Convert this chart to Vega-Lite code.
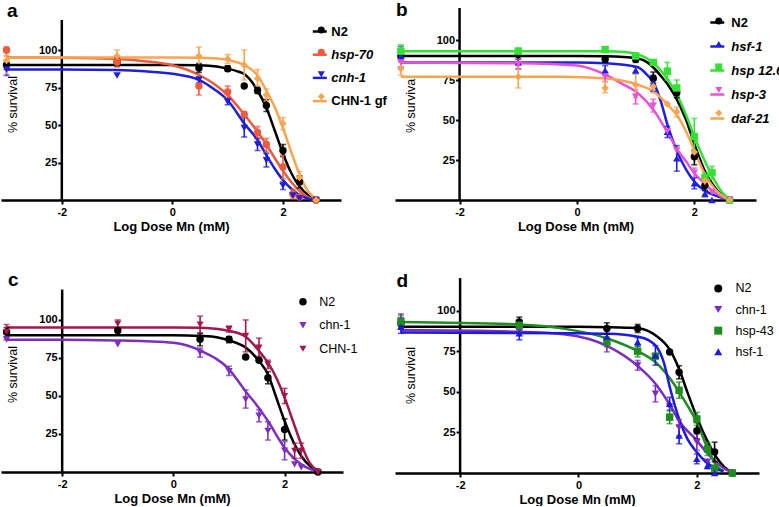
{
  "$schema": "https://vega.github.io/schema/vega-lite/v6.json",
  "background": "white",
  "padding": {"left": 1, "top": 0, "right": 0, "bottom": 0},
  "resolve": {"scale": {"color": "independent", "shape": "independent", "size": "independent"}, "legend": {"color": "independent", "shape": "independent", "size": "independent"}},
  "datasets": {
    "axisLine": [{}],
    "aP": [
      {"s":"N2","x":-3,"y":90,"lo":87,"hi":93},
      {"s":"N2","x":-1,"y":92,"lo":89,"hi":95},
      {"s":"N2","x":0.48,"y":88,"lo":85,"hi":91},
      {"s":"N2","x":1,"y":87.5,"lo":86,"hi":89.5},
      {"s":"N2","x":1.3,"y":76},
      {"s":"N2","x":1.54,"y":73,"lo":71,"hi":75},
      {"s":"N2","x":1.7,"y":63,"lo":59,"hi":67},
      {"s":"N2","x":2,"y":33,"lo":29,"hi":37},
      {"s":"N2","x":2.3,"y":12,"lo":8,"hi":16},
      {"s":"N2","x":2.6,"y":0},
      {"s":"hsp-70","x":-3,"y":100,"lo":96,"hi":102},
      {"s":"hsp-70","x":-1,"y":92,"lo":89,"hi":95},
      {"s":"hsp-70","x":0.48,"y":76,"lo":70,"hi":82},
      {"s":"hsp-70","x":1,"y":72,"lo":68,"hi":76},
      {"s":"hsp-70","x":1.3,"y":57,"lo":55,"hi":59},
      {"s":"hsp-70","x":1.54,"y":45,"lo":41,"hi":49},
      {"s":"hsp-70","x":1.7,"y":37,"lo":32,"hi":41},
      {"s":"hsp-70","x":2,"y":22,"lo":14,"hi":30},
      {"s":"hsp-70","x":2.18,"y":4,"lo":1,"hi":7},
      {"s":"hsp-70","x":2.3,"y":2},
      {"s":"hsp-70","x":2.6,"y":0},
      {"s":"cnh-1","x":-3,"y":87,"lo":83,"hi":91},
      {"s":"cnh-1","x":-1,"y":83},
      {"s":"cnh-1","x":0.48,"y":80,"lo":78,"hi":82},
      {"s":"cnh-1","x":1,"y":65.5,"lo":63.5,"hi":67.5},
      {"s":"cnh-1","x":1.3,"y":48,"lo":42,"hi":55},
      {"s":"cnh-1","x":1.54,"y":37,"lo":33,"hi":41},
      {"s":"cnh-1","x":1.7,"y":26.5,"lo":22,"hi":31},
      {"s":"cnh-1","x":2,"y":9.5,"lo":7,"hi":12},
      {"s":"cnh-1","x":2.18,"y":3},
      {"s":"cnh-1","x":2.3,"y":1},
      {"s":"cnh-1","x":2.6,"y":0},
      {"s":"CHN-1 gf","x":-3,"y":93,"lo":84,"hi":98},
      {"s":"CHN-1 gf","x":-1,"y":96,"lo":93,"hi":100},
      {"s":"CHN-1 gf","x":0.48,"y":96,"lo":89,"hi":102},
      {"s":"CHN-1 gf","x":1,"y":94,"lo":91,"hi":97},
      {"s":"CHN-1 gf","x":1.3,"y":90,"lo":80,"hi":100},
      {"s":"CHN-1 gf","x":1.54,"y":81,"lo":76,"hi":87},
      {"s":"CHN-1 gf","x":1.7,"y":70,"lo":66,"hi":74},
      {"s":"CHN-1 gf","x":2,"y":51,"lo":47,"hi":55},
      {"s":"CHN-1 gf","x":2.3,"y":15,"lo":10,"hi":19},
      {"s":"CHN-1 gf","x":2.6,"y":0}
    ],
    "aC": [
      {"s":"N2","x":-3,"y":90},{"s":"N2","x":-1,"y":90},{"s":"N2","x":0,"y":90},{"s":"N2","x":0.5,"y":89.8},{"s":"N2","x":0.8,"y":89},{"s":"N2","x":1,"y":87.6},{"s":"N2","x":1.2,"y":85.5},{"s":"N2","x":1.3,"y":84},{"s":"N2","x":1.4,"y":80.5},{"s":"N2","x":1.54,"y":73},{"s":"N2","x":1.7,"y":61.5},{"s":"N2","x":1.85,"y":46.5},{"s":"N2","x":2,"y":31},{"s":"N2","x":2.15,"y":18},{"s":"N2","x":2.3,"y":9},{"s":"N2","x":2.45,"y":3.5},{"s":"N2","x":2.6,"y":0.5},
      {"s":"hsp-70","x":-3,"y":95},{"s":"hsp-70","x":-2,"y":94.8},{"s":"hsp-70","x":-1,"y":94},{"s":"hsp-70","x":-0.5,"y":92.5},{"s":"hsp-70","x":0,"y":89.8},{"s":"hsp-70","x":0.5,"y":83},{"s":"hsp-70","x":0.75,"y":77.5},{"s":"hsp-70","x":1,"y":70},{"s":"hsp-70","x":1.3,"y":57},{"s":"hsp-70","x":1.54,"y":45.5},{"s":"hsp-70","x":1.7,"y":37},{"s":"hsp-70","x":1.85,"y":28},{"s":"hsp-70","x":2,"y":19.5},{"s":"hsp-70","x":2.15,"y":12},{"s":"hsp-70","x":2.3,"y":6},{"s":"hsp-70","x":2.45,"y":2},{"s":"hsp-70","x":2.6,"y":0},
      {"s":"cnh-1","x":-3,"y":87},{"s":"cnh-1","x":-2,"y":87},{"s":"cnh-1","x":-1,"y":86.6},{"s":"cnh-1","x":-0.5,"y":85.8},{"s":"cnh-1","x":0,"y":84.2},{"s":"cnh-1","x":0.5,"y":79.8},{"s":"cnh-1","x":0.75,"y":74},{"s":"cnh-1","x":1,"y":66.5},{"s":"cnh-1","x":1.3,"y":51},{"s":"cnh-1","x":1.54,"y":40},{"s":"cnh-1","x":1.7,"y":30},{"s":"cnh-1","x":1.85,"y":21},{"s":"cnh-1","x":2,"y":13.3},{"s":"cnh-1","x":2.15,"y":7.5},{"s":"cnh-1","x":2.3,"y":3.3},{"s":"cnh-1","x":2.45,"y":1},{"s":"cnh-1","x":2.55,"y":0},
      {"s":"CHN-1 gf","x":-3,"y":95},{"s":"CHN-1 gf","x":0,"y":95},{"s":"CHN-1 gf","x":0.5,"y":94.8},{"s":"CHN-1 gf","x":0.8,"y":94.3},{"s":"CHN-1 gf","x":1,"y":93.5},{"s":"CHN-1 gf","x":1.15,"y":92},{"s":"CHN-1 gf","x":1.3,"y":90},{"s":"CHN-1 gf","x":1.54,"y":83},{"s":"CHN-1 gf","x":1.7,"y":73},{"s":"CHN-1 gf","x":1.85,"y":62},{"s":"CHN-1 gf","x":2,"y":48},{"s":"CHN-1 gf","x":2.15,"y":32},{"s":"CHN-1 gf","x":2.3,"y":17},{"s":"CHN-1 gf","x":2.45,"y":6},{"s":"CHN-1 gf","x":2.6,"y":0.5}
    ],
    "bP": [
      {"s":"N2","x":-3,"y":90,"lo":87,"hi":93},
      {"s":"N2","x":-1,"y":91,"lo":88,"hi":94},
      {"s":"N2","x":0.48,"y":88,"lo":86,"hi":90},
      {"s":"N2","x":1,"y":88,"lo":86,"hi":90},
      {"s":"N2","x":1.3,"y":76,"lo":73,"hi":80},
      {"s":"N2","x":1.7,"y":67,"lo":64,"hi":70},
      {"s":"N2","x":2,"y":27,"lo":22,"hi":31},
      {"s":"N2","x":2.18,"y":9,"lo":6,"hi":12},
      {"s":"N2","x":2.6,"y":0},
      {"s":"hsf-1","x":-3,"y":90,"lo":83,"hi":96},
      {"s":"hsf-1","x":-1,"y":86,"lo":82,"hi":90},
      {"s":"hsf-1","x":0.48,"y":81,"lo":78,"hi":84},
      {"s":"hsf-1","x":1,"y":81,"lo":79,"hi":83},
      {"s":"hsf-1","x":1.3,"y":73,"lo":68,"hi":78},
      {"s":"hsf-1","x":1.54,"y":42.7,"lo":39,"hi":46},
      {"s":"hsf-1","x":1.7,"y":26,"lo":18,"hi":34},
      {"s":"hsf-1","x":2,"y":10.4,"lo":7,"hi":14},
      {"s":"hsf-1","x":2.18,"y":4,"lo":2,"hi":6},
      {"s":"hsf-1","x":2.3,"y":0},
      {"s":"hsp 12.6","x":-3,"y":93,"lo":89,"hi":97},
      {"s":"hsp 12.6","x":-1,"y":93,"lo":91,"hi":95},
      {"s":"hsp 12.6","x":0.48,"y":94},
      {"s":"hsp 12.6","x":1,"y":90,"lo":88,"hi":92},
      {"s":"hsp 12.6","x":1.3,"y":86},
      {"s":"hsp 12.6","x":1.54,"y":80.5,"lo":75,"hi":86},
      {"s":"hsp 12.6","x":1.7,"y":70,"lo":65,"hi":75},
      {"s":"hsp 12.6","x":2,"y":39.6,"lo":28,"hi":51},
      {"s":"hsp 12.6","x":2.18,"y":14,"lo":11,"hi":17},
      {"s":"hsp 12.6","x":2.3,"y":17,"lo":13,"hi":21},
      {"s":"hsp 12.6","x":2.6,"y":0},
      {"s":"hsp-3","x":-3,"y":86,"lo":83,"hi":89},
      {"s":"hsp-3","x":-1,"y":85,"lo":82,"hi":88},
      {"s":"hsp-3","x":0.48,"y":77,"lo":74,"hi":80},
      {"s":"hsp-3","x":1,"y":64.6,"lo":60,"hi":69},
      {"s":"hsp-3","x":1.3,"y":59,"lo":55,"hi":63},
      {"s":"hsp-3","x":1.54,"y":43},
      {"s":"hsp-3","x":1.7,"y":31},
      {"s":"hsp-3","x":2,"y":17,"lo":14,"hi":20},
      {"s":"hsp-3","x":2.18,"y":11,"lo":9,"hi":13},
      {"s":"hsp-3","x":2.3,"y":5},
      {"s":"hsp-3","x":2.6,"y":0},
      {"s":"daf-21","x":-3,"y":82,"lo":78,"hi":86},
      {"s":"daf-21","x":-1,"y":77,"lo":70,"hi":84},
      {"s":"daf-21","x":0.48,"y":70,"lo":67,"hi":74},
      {"s":"daf-21","x":1,"y":72,"lo":64,"hi":80},
      {"s":"daf-21","x":1.3,"y":71,"lo":67,"hi":75},
      {"s":"daf-21","x":1.54,"y":60},
      {"s":"daf-21","x":1.7,"y":55,"lo":52,"hi":58},
      {"s":"daf-21","x":2,"y":30},
      {"s":"daf-21","x":2.18,"y":12},
      {"s":"daf-21","x":2.6,"y":0}
    ],
    "bC": [
      {"s":"N2","x":-3,"y":90},{"s":"N2","x":0,"y":90},{"s":"N2","x":0.5,"y":89.8},{"s":"N2","x":0.8,"y":89.3},{"s":"N2","x":1.04,"y":88.5},{"s":"N2","x":1.2,"y":86},{"s":"N2","x":1.31,"y":82.5},{"s":"N2","x":1.43,"y":77.5},{"s":"N2","x":1.55,"y":72},{"s":"N2","x":1.72,"y":61.5},{"s":"N2","x":1.86,"y":50},{"s":"N2","x":2,"y":35},{"s":"N2","x":2.17,"y":18.8},{"s":"N2","x":2.34,"y":8.3},{"s":"N2","x":2.47,"y":3},{"s":"N2","x":2.6,"y":0.5},
      {"s":"hsf-1","x":-3,"y":86},{"s":"hsf-1","x":0,"y":86},{"s":"hsf-1","x":0.5,"y":85.5},{"s":"hsf-1","x":0.8,"y":84.5},{"s":"hsf-1","x":1.04,"y":83},{"s":"hsf-1","x":1.2,"y":78},{"s":"hsf-1","x":1.31,"y":73},{"s":"hsf-1","x":1.43,"y":61.5},{"s":"hsf-1","x":1.55,"y":46},{"s":"hsf-1","x":1.72,"y":29},{"s":"hsf-1","x":1.86,"y":19},{"s":"hsf-1","x":2,"y":11.5},{"s":"hsf-1","x":2.17,"y":6},{"s":"hsf-1","x":2.34,"y":3},{"s":"hsf-1","x":2.5,"y":1},
      {"s":"hsp 12.6","x":-3,"y":93},{"s":"hsp 12.6","x":0,"y":93},{"s":"hsp 12.6","x":0.5,"y":93},{"s":"hsp 12.6","x":0.8,"y":92.5},{"s":"hsp 12.6","x":1.04,"y":91},{"s":"hsp 12.6","x":1.31,"y":85.4},{"s":"hsp 12.6","x":1.55,"y":75},{"s":"hsp 12.6","x":1.72,"y":64.6},{"s":"hsp 12.6","x":1.86,"y":53},{"s":"hsp 12.6","x":2,"y":39.6},{"s":"hsp 12.6","x":2.17,"y":25},{"s":"hsp 12.6","x":2.34,"y":12.5},{"s":"hsp 12.6","x":2.47,"y":5},{"s":"hsp 12.6","x":2.6,"y":0.5},
      {"s":"hsp-3","x":-3,"y":86},{"s":"hsp-3","x":-1,"y":85.5},{"s":"hsp-3","x":0,"y":84},{"s":"hsp-3","x":0.5,"y":78},{"s":"hsp-3","x":0.75,"y":73},{"s":"hsp-3","x":1.04,"y":66.7},{"s":"hsp-3","x":1.31,"y":56},{"s":"hsp-3","x":1.55,"y":41.7},{"s":"hsp-3","x":1.72,"y":31},{"s":"hsp-3","x":1.86,"y":24},{"s":"hsp-3","x":2,"y":16.7},{"s":"hsp-3","x":2.17,"y":10.4},{"s":"hsp-3","x":2.34,"y":5},{"s":"hsp-3","x":2.5,"y":1.5},{"s":"hsp-3","x":2.6,"y":0.5},
      {"s":"daf-21","x":-3,"y":77},{"s":"daf-21","x":-1,"y":77},{"s":"daf-21","x":-0.27,"y":77},{"s":"daf-21","x":0.5,"y":76},{"s":"daf-21","x":1.04,"y":72},{"s":"daf-21","x":1.31,"y":67.7},{"s":"daf-21","x":1.55,"y":59.4},{"s":"daf-21","x":1.72,"y":52},{"s":"daf-21","x":1.86,"y":42.7},{"s":"daf-21","x":2,"y":31},{"s":"daf-21","x":2.17,"y":16.7},{"s":"daf-21","x":2.34,"y":7.3},{"s":"daf-21","x":2.5,"y":2},{"s":"daf-21","x":2.6,"y":0.5}
    ],
    "cP": [
      {"s":"N2","x":-3,"y":92,"lo":89,"hi":95},
      {"s":"N2","x":-1,"y":93},
      {"s":"N2","x":0.48,"y":87.3,"lo":83,"hi":91},
      {"s":"N2","x":1,"y":87.3,"lo":85,"hi":89},
      {"s":"N2","x":1.3,"y":75.7},
      {"s":"N2","x":1.54,"y":73.5},
      {"s":"N2","x":1.7,"y":62,"lo":58,"hi":66},
      {"s":"N2","x":2,"y":28,"lo":21,"hi":35},
      {"s":"N2","x":2.6,"y":0},
      {"s":"chn-1","x":-3,"y":87},
      {"s":"chn-1","x":-1,"y":84},
      {"s":"chn-1","x":0.48,"y":78.5,"lo":75.5,"hi":81.5},
      {"s":"chn-1","x":1,"y":66.4,"lo":63.5,"hi":69.5},
      {"s":"chn-1","x":1.3,"y":47.8,"lo":42,"hi":54},
      {"s":"chn-1","x":1.54,"y":37,"lo":33,"hi":41},
      {"s":"chn-1","x":1.7,"y":27,"lo":21,"hi":33},
      {"s":"chn-1","x":2,"y":14,"lo":8,"hi":20},
      {"s":"chn-1","x":2.18,"y":5},
      {"s":"chn-1","x":2.3,"y":3},
      {"s":"chn-1","x":2.6,"y":0},
      {"s":"CHN-1","x":-3,"y":92,"lo":87,"hi":97},
      {"s":"CHN-1","x":-1,"y":97.5,"lo":95,"hi":100},
      {"s":"CHN-1","x":0.48,"y":97,"lo":91.5,"hi":102.5},
      {"s":"CHN-1","x":1,"y":94,"lo":92,"hi":96},
      {"s":"CHN-1","x":1.3,"y":89.5,"lo":79,"hi":100},
      {"s":"CHN-1","x":1.54,"y":81.8,"lo":76,"hi":88},
      {"s":"CHN-1","x":1.7,"y":70.8,"lo":68,"hi":73.5},
      {"s":"CHN-1","x":2,"y":50,"lo":45,"hi":55},
      {"s":"CHN-1","x":2.18,"y":14,"lo":9,"hi":19},
      {"s":"CHN-1","x":2.3,"y":14,"lo":9,"hi":19},
      {"s":"CHN-1","x":2.6,"y":0}
    ],
    "cC": [
      {"s":"N2","x":-3,"y":90},{"s":"N2","x":0,"y":90},{"s":"N2","x":0.5,"y":89.5},{"s":"N2","x":0.8,"y":88.5},{"s":"N2","x":1,"y":86.6},{"s":"N2","x":1.3,"y":81.8},{"s":"N2","x":1.54,"y":73},{"s":"N2","x":1.7,"y":64.3},{"s":"N2","x":1.85,"y":49},{"s":"N2","x":2,"y":33.5},{"s":"N2","x":2.15,"y":20.4},{"s":"N2","x":2.3,"y":10.5},{"s":"N2","x":2.45,"y":4},{"s":"N2","x":2.6,"y":0.7},
      {"s":"chn-1","x":-3,"y":87},{"s":"chn-1","x":-2,"y":87},{"s":"chn-1","x":-1,"y":86.5},{"s":"chn-1","x":-0.5,"y":86},{"s":"chn-1","x":0,"y":85},{"s":"chn-1","x":0.5,"y":79.6},{"s":"chn-1","x":1,"y":67.5},{"s":"chn-1","x":1.3,"y":53},{"s":"chn-1","x":1.54,"y":42},{"s":"chn-1","x":1.7,"y":33.5},{"s":"chn-1","x":2,"y":16},{"s":"chn-1","x":2.3,"y":5},{"s":"chn-1","x":2.45,"y":2},{"s":"chn-1","x":2.6,"y":0.5},
      {"s":"CHN-1","x":-3,"y":95},{"s":"CHN-1","x":0,"y":95},{"s":"CHN-1","x":0.5,"y":94.8},{"s":"CHN-1","x":0.8,"y":94},{"s":"CHN-1","x":1,"y":92.8},{"s":"CHN-1","x":1.3,"y":89},{"s":"CHN-1","x":1.54,"y":79.6},{"s":"CHN-1","x":1.7,"y":71.9},{"s":"CHN-1","x":1.85,"y":62},{"s":"CHN-1","x":2,"y":48.9},{"s":"CHN-1","x":2.15,"y":33.5},{"s":"CHN-1","x":2.3,"y":18.2},{"s":"CHN-1","x":2.45,"y":6},{"s":"CHN-1","x":2.6,"y":0.7}
    ],
    "dP": [
      {"s":"N2","x":-3,"y":92,"lo":89,"hi":95},
      {"s":"N2","x":-1,"y":93,"lo":90,"hi":96},
      {"s":"N2","x":0.48,"y":89,"lo":85.5,"hi":92.5},
      {"s":"N2","x":1,"y":89,"lo":86.5,"hi":91.5},
      {"s":"N2","x":1.54,"y":74.5},
      {"s":"N2","x":1.7,"y":62,"lo":58,"hi":66},
      {"s":"N2","x":2,"y":26,"lo":21,"hi":31},
      {"s":"N2","x":2.3,"y":13,"lo":7,"hi":19},
      {"s":"N2","x":2.6,"y":0},
      {"s":"chn-1","x":-3,"y":94,"lo":90,"hi":98},
      {"s":"chn-1","x":-1,"y":87},
      {"s":"chn-1","x":0.48,"y":78.6,"lo":74.6,"hi":82.6},
      {"s":"chn-1","x":1,"y":66.3,"lo":63.3,"hi":69.3},
      {"s":"chn-1","x":1.3,"y":48.8,"lo":43.8,"hi":53.8},
      {"s":"chn-1","x":1.54,"y":41},
      {"s":"chn-1","x":1.7,"y":28,"lo":23,"hi":33},
      {"s":"chn-1","x":2,"y":19,"lo":14,"hi":24},
      {"s":"chn-1","x":2.18,"y":7},
      {"s":"chn-1","x":2.3,"y":3},
      {"s":"chn-1","x":2.6,"y":0},
      {"s":"hsp-43","x":-3,"y":93,"lo":89,"hi":97},
      {"s":"hsp-43","x":-1,"y":91,"lo":88,"hi":94},
      {"s":"hsp-43","x":0.48,"y":80.7,"lo":77.7,"hi":83.7},
      {"s":"hsp-43","x":1,"y":75,"lo":71.5,"hi":78.5},
      {"s":"hsp-43","x":1.3,"y":72},
      {"s":"hsp-43","x":1.54,"y":34.4,"lo":30.4,"hi":38.4},
      {"s":"hsp-43","x":1.7,"y":50.9,"lo":46,"hi":56},
      {"s":"hsp-43","x":2,"y":33.3,"lo":29.3,"hi":37.3},
      {"s":"hsp-43","x":2.18,"y":14.8,"lo":10.8,"hi":18.8},
      {"s":"hsp-43","x":2.3,"y":3},
      {"s":"hsp-43","x":2.6,"y":0},
      {"s":"hsf-1","x":-3,"y":90,"lo":86,"hi":94},
      {"s":"hsf-1","x":-1,"y":86,"lo":82,"hi":90},
      {"s":"hsf-1","x":0.48,"y":84},
      {"s":"hsf-1","x":1,"y":80.7,"lo":78,"hi":83.4},
      {"s":"hsf-1","x":1.3,"y":72.4,"lo":66.4,"hi":78.4},
      {"s":"hsf-1","x":1.54,"y":42.6,"lo":38.6,"hi":46.6},
      {"s":"hsf-1","x":1.7,"y":23,"lo":18,"hi":29},
      {"s":"hsf-1","x":2,"y":8.7,"lo":5.7,"hi":11.7},
      {"s":"hsf-1","x":2.18,"y":4.6,"lo":2.6,"hi":6.6},
      {"s":"hsf-1","x":2.3,"y":0}
    ],
    "dC": [
      {"s":"N2","x":-3,"y":90},{"s":"N2","x":0,"y":90},{"s":"N2","x":0.5,"y":89.8},{"s":"N2","x":0.8,"y":89.5},{"s":"N2","x":1.03,"y":89},{"s":"N2","x":1.3,"y":84.8},{"s":"N2","x":1.55,"y":75.5},{"s":"N2","x":1.7,"y":64},{"s":"N2","x":1.84,"y":49.8},{"s":"N2","x":2,"y":34.4},{"s":"N2","x":2.16,"y":21},{"s":"N2","x":2.33,"y":9.7},{"s":"N2","x":2.47,"y":3.5},{"s":"N2","x":2.61,"y":0.3},
      {"s":"chn-1","x":-3,"y":88},{"s":"chn-1","x":-1,"y":87},{"s":"chn-1","x":-0.25,"y":85.5},{"s":"chn-1","x":0.5,"y":78},{"s":"chn-1","x":1.03,"y":65},{"s":"chn-1","x":1.3,"y":55},{"s":"chn-1","x":1.55,"y":41.6},{"s":"chn-1","x":1.7,"y":32},{"s":"chn-1","x":2,"y":20},{"s":"chn-1","x":2.16,"y":12.8},{"s":"chn-1","x":2.33,"y":6.6},{"s":"chn-1","x":2.47,"y":2.5},{"s":"chn-1","x":2.61,"y":0.4},
      {"s":"hsp-43","x":-3,"y":93},{"s":"hsp-43","x":-1,"y":91.5},{"s":"hsp-43","x":-0.25,"y":88.9},{"s":"hsp-43","x":0.5,"y":82.7},{"s":"hsp-43","x":1.03,"y":74.5},{"s":"hsp-43","x":1.3,"y":68.3},{"s":"hsp-43","x":1.55,"y":58},{"s":"hsp-43","x":1.7,"y":49.8},{"s":"hsp-43","x":1.84,"y":41.6},{"s":"hsp-43","x":2,"y":31.3},{"s":"hsp-43","x":2.16,"y":16.9},{"s":"hsp-43","x":2.33,"y":4.6},{"s":"hsp-43","x":2.45,"y":1},
      {"s":"hsf-1","x":-3,"y":86.5},{"s":"hsf-1","x":0,"y":86},{"s":"hsf-1","x":0.5,"y":85.8},{"s":"hsf-1","x":1.03,"y":83.8},{"s":"hsf-1","x":1.3,"y":78.6},{"s":"hsf-1","x":1.44,"y":68.3},{"s":"hsf-1","x":1.55,"y":51.9},{"s":"hsf-1","x":1.7,"y":33.3},{"s":"hsf-1","x":1.84,"y":21},{"s":"hsf-1","x":2,"y":12.8},{"s":"hsf-1","x":2.16,"y":6.6},{"s":"hsf-1","x":2.33,"y":2.5},{"s":"hsf-1","x":2.45,"y":1}
    ]
  },
  "hconcat": [
    {
      "spacing": 38,
      "resolve": {"scale": {"color": "independent", "shape": "independent", "size": "independent"}, "legend": {"color": "independent", "shape": "independent", "size": "independent"}},
      "vconcat": [
        {
          "width": 340, "height": 192,
          "title": {"text": "a", "dx": 6, "dy": 13, "offset": 0},
          "resolve": {"legend": {"color": "independent", "shape": "independent"}},
          "layer": [
            {
              "data": {"name": "axisLine"},
              "mark": {"type": "rule", "strokeWidth": 2.5, "color": "#000"},
              "encoding": {
                "x": {"datum": -2, "type": "quantitative", "title": "Log Dose Mn (mM)", "scale": {"domain": [-3.1, 3.05], "nice": false, "zero": false}, "axis": {"values": [-2, 0, 2], "labelExpr": "'' + datum.value"}},
                "y": {"datum": 0, "type": "quantitative", "title": "% survival", "scale": {"domain": [0, 128], "nice": false}, "axis": {"values": [25, 50, 75, 100], "offset": -60.8, "domain": false}},
                "y2": {"datum": 120}
              }
            },
            {
              "data": {"name": "aC"},
              "mark": {"type": "line", "interpolate": "monotone", "strokeWidth": 2.5},
              "encoding": {
                "x": {"field": "x", "type": "quantitative", "title": "Log Dose Mn (mM)"},
                "y": {"field": "y", "type": "quantitative", "title": "% survival"},
                "color": {"field": "s", "type": "nominal", "scale": {"domain": ["N2", "hsp-70", "cnh-1", "CHN-1 gf"], "range": ["#000000", "#f05a3c", "#1f1fd8", "#f9a54f"]},
                  "legend": {"title": null, "orient": "none", "legendX": 310.3, "legendY": 15, "symbolType": "stroke", "symbolSize": 196, "symbolStrokeWidth": 2.5, "labelFontSize": 13, "labelFontWeight": "bold", "labelOffset": 3, "rowPadding": 7.2,
                    "encoding": {"labels": {"fontStyle": {"condition": {"test": "datum.label === 'N2' || datum.label === 'CHN-1 gf'", "value": "normal"}, "value": "italic"}}}}}
              }
            },
            {
              "data": {"name": "aP"},
              "transform": [{"filter": "isValid(datum.lo)"}],
              "mark": {"type": "errorbar", "thickness": 1.6, "ticks": {"size": 6}},
              "encoding": {
                "x": {"field": "x", "type": "quantitative", "title": "Log Dose Mn (mM)"},
                "y": {"field": "lo", "type": "quantitative", "title": "% survival"},
                "y2": {"field": "hi"},
                "color": {"field": "s", "type": "nominal", "legend": null}
              }
            },
            {
              "data": {"name": "aP"},
              "mark": {"type": "point", "filled": true, "opacity": 1, "size": 55},
              "encoding": {
                "x": {"field": "x", "type": "quantitative", "title": "Log Dose Mn (mM)"},
                "y": {"field": "y", "type": "quantitative", "title": "% survival"},
                "color": {"field": "s", "type": "nominal", "legend": {"title": null, "orient": "none", "legendX": 313.8, "legendY": 15.5, "symbolSize": 50, "labelFontSize": 13, "labelFontWeight": "bold", "labelOpacity": 0, "rowPadding": 8.2}},
                "shape": {"field": "s", "type": "nominal", "scale": {"domain": ["N2", "hsp-70", "cnh-1", "CHN-1 gf"], "range": ["circle", "circle", "triangle-down", "diamond"]}, "legend": {"title": null, "orient": "none", "legendX": 313.8, "legendY": 15.5, "symbolSize": 50, "labelFontSize": 13, "labelFontWeight": "bold", "labelOpacity": 0, "rowPadding": 8.2}}
              }
            }
          ]
        },
        {
          "width": 342, "height": 196,
          "title": {"text": "c", "dx": 7, "dy": 14, "offset": 0},
          "resolve": {"legend": {"color": "independent", "shape": "independent", "size": "independent"}},
          "layer": [
            {
              "data": {"name": "axisLine"},
              "mark": {"type": "rule", "strokeWidth": 2.5, "color": "#000"},
              "encoding": {
                "x": {"datum": -2, "type": "quantitative", "title": "Log Dose Mn (mM)", "scale": {"domain": [-3.1, 3.05], "nice": false, "zero": false}, "axis": {"values": [-2, 0, 2], "labelExpr": "'' + datum.value"}},
                "y": {"datum": 0, "type": "quantitative", "title": "% survival", "scale": {"domain": [0, 128.9], "nice": false}, "axis": {"values": [25, 50, 75, 100], "offset": -61.2, "domain": false}},
                "y2": {"datum": 120}
              }
            },
            {
              "data": {"name": "cC"},
              "mark": {"type": "line", "interpolate": "monotone", "strokeWidth": 2.5},
              "encoding": {
                "x": {"field": "x", "type": "quantitative", "title": "Log Dose Mn (mM)"},
                "y": {"field": "y", "type": "quantitative", "title": "% survival"},
                "color": {"field": "s", "type": "nominal", "scale": {"domain": ["N2", "chn-1", "CHN-1"], "range": ["#000000", "#7d2fc0", "#a3164e"]}, "legend": null}
              }
            },
            {
              "data": {"name": "cP"},
              "transform": [{"filter": "isValid(datum.lo)"}],
              "mark": {"type": "errorbar", "thickness": 1.6, "ticks": {"size": 6}},
              "encoding": {
                "x": {"field": "x", "type": "quantitative", "title": "Log Dose Mn (mM)"},
                "y": {"field": "lo", "type": "quantitative", "title": "% survival"},
                "y2": {"field": "hi"},
                "color": {"field": "s", "type": "nominal", "legend": null}
              }
            },
            {
              "data": {"name": "cP"},
              "mark": {"type": "point", "filled": true, "opacity": 1},
              "encoding": {
                "x": {"field": "x", "type": "quantitative", "title": "Log Dose Mn (mM)"},
                "y": {"field": "y", "type": "quantitative", "title": "% survival"},
                "color": {"field": "s", "type": "nominal", "legend": {"title": null, "orient": "none", "legendX": 295.7, "legendY": 19.5, "labelFontSize": 12.5, "labelFontWeight": "normal", "labelOffset": 10, "rowPadding": 10.5}},
                "shape": {"field": "s", "type": "nominal", "scale": {"domain": ["N2", "chn-1", "CHN-1"], "range": ["circle", "triangle-down", "triangle-down"]}, "legend": {"title": null, "orient": "none", "legendX": 295.7, "legendY": 19.5, "labelFontSize": 12.5, "labelFontWeight": "normal", "labelOffset": 10, "rowPadding": 10.5}},
                "size": {"field": "s", "type": "nominal", "scale": {"domain": ["N2", "chn-1", "CHN-1"], "range": [56, 50, 100]}, "legend": {"title": null, "orient": "none", "legendX": 295.7, "legendY": 19.5, "labelFontSize": 12.5, "labelFontWeight": "normal", "labelOffset": 10, "rowPadding": 10.5}}
              }
            }
          ]
        }
      ]
    },
    {
      "spacing": 38,
      "resolve": {"scale": {"color": "independent", "shape": "independent", "size": "independent"}, "legend": {"color": "independent", "shape": "independent", "size": "independent"}},
      "vconcat": [
        {
          "width": 361, "height": 192,
          "title": {"text": "b", "dx": 1, "dy": 13, "offset": 0},
          "resolve": {"legend": {"color": "independent", "shape": "independent"}},
          "layer": [
            {
              "data": {"name": "axisLine"},
              "mark": {"type": "rule", "strokeWidth": 2.5, "color": "#000"},
              "encoding": {
                "x": {"datum": -2, "type": "quantitative", "title": "Log Dose Mn (mM)", "scale": {"domain": [-3.1, 3.05], "nice": false, "zero": false}, "axis": {"values": [-2, 0, 2], "labelExpr": "'' + datum.value"}},
                "y": {"datum": 0, "type": "quantitative", "title": "% survival", "scale": {"domain": [0, 120], "nice": false}, "axis": {"values": [25, 50, 75, 100], "offset": -64.6, "domain": false}},
                "y2": {"datum": 120}
              }
            },
            {
              "data": {"name": "bC"},
              "mark": {"type": "line", "interpolate": "monotone", "strokeWidth": 2.5},
              "encoding": {
                "x": {"field": "x", "type": "quantitative", "title": "Log Dose Mn (mM)"},
                "y": {"field": "y", "type": "quantitative", "title": "% survival"},
                "color": {"field": "s", "type": "nominal", "scale": {"domain": ["N2", "hsf-1", "hsp 12.6", "hsp-3", "daf-21"], "range": ["#000000", "#2020e0", "#33e033", "#e653d6", "#f9a54f"]},
                  "legend": {"title": null, "orient": "none", "legendX": 313.8, "legendY": 6, "symbolType": "stroke", "symbolSize": 196, "symbolStrokeWidth": 2.5, "labelFontSize": 13, "labelFontWeight": "bold", "labelOffset": 5.5, "rowPadding": 8,
                    "encoding": {"labels": {"fontStyle": {"condition": {"test": "datum.label === 'N2'", "value": "normal"}, "value": "italic"}}}}}
              }
            },
            {
              "data": {"name": "bP"},
              "transform": [{"filter": "isValid(datum.lo)"}],
              "mark": {"type": "errorbar", "thickness": 1.6, "ticks": {"size": 6}},
              "encoding": {
                "x": {"field": "x", "type": "quantitative", "title": "Log Dose Mn (mM)"},
                "y": {"field": "lo", "type": "quantitative", "title": "% survival"},
                "y2": {"field": "hi"},
                "color": {"field": "s", "type": "nominal", "legend": null}
              }
            },
            {
              "data": {"name": "bP"},
              "mark": {"type": "point", "filled": true, "opacity": 1, "size": 55},
              "encoding": {
                "x": {"field": "x", "type": "quantitative", "title": "Log Dose Mn (mM)"},
                "y": {"field": "y", "type": "quantitative", "title": "% survival"},
                "color": {"field": "s", "type": "nominal", "legend": {"title": null, "orient": "none", "legendX": 317.3, "legendY": 6.5, "symbolSize": 50, "labelFontSize": 13, "labelFontWeight": "bold", "labelOpacity": 0, "rowPadding": 9}},
                "shape": {"field": "s", "type": "nominal", "scale": {"domain": ["N2", "hsf-1", "hsp 12.6", "hsp-3", "daf-21"], "range": ["circle", "triangle-up", "square", "triangle-down", "diamond"]}, "legend": {"title": null, "orient": "none", "legendX": 317.3, "legendY": 6.5, "symbolSize": 50, "labelFontSize": 13, "labelFontWeight": "bold", "labelOpacity": 0, "rowPadding": 9}}
              }
            }
          ]
        },
        {
          "width": 364, "height": 196,
          "title": {"text": "d", "dx": 1.5, "dy": 14, "offset": 0},
          "resolve": {"legend": {"color": "independent", "shape": "independent"}},
          "layer": [
            {
              "data": {"name": "axisLine"},
              "mark": {"type": "rule", "strokeWidth": 2.5, "color": "#000"},
              "encoding": {
                "x": {"datum": -2, "type": "quantitative", "title": "Log Dose Mn (mM)", "scale": {"domain": [-3.1, 3.05], "nice": false, "zero": false}, "axis": {"values": [-2, 0, 2], "labelExpr": "'' + datum.value"}},
                "y": {"datum": 0, "type": "quantitative", "title": "% survival", "scale": {"domain": [0, 120.7], "nice": false}, "axis": {"values": [25, 50, 75, 100], "offset": -65.1, "domain": false}},
                "y2": {"datum": 120}
              }
            },
            {
              "data": {"name": "dC"},
              "mark": {"type": "line", "interpolate": "monotone", "strokeWidth": 2.5},
              "encoding": {
                "x": {"field": "x", "type": "quantitative", "title": "Log Dose Mn (mM)"},
                "y": {"field": "y", "type": "quantitative", "title": "% survival"},
                "color": {"field": "s", "type": "nominal", "scale": {"domain": ["N2", "chn-1", "hsp-43", "hsf-1"], "range": ["#000000", "#7a2cbc", "#1e8c1e", "#1a1ae0"]}, "legend": null}
              }
            },
            {
              "data": {"name": "dP"},
              "transform": [{"filter": "isValid(datum.lo)"}],
              "mark": {"type": "errorbar", "thickness": 1.6, "ticks": {"size": 6}},
              "encoding": {
                "x": {"field": "x", "type": "quantitative", "title": "Log Dose Mn (mM)"},
                "y": {"field": "lo", "type": "quantitative", "title": "% survival"},
                "y2": {"field": "hi"},
                "color": {"field": "s", "type": "nominal", "legend": null}
              }
            },
            {
              "data": {"name": "dP"},
              "mark": {"type": "point", "filled": true, "opacity": 1, "size": 55},
              "encoding": {
                "x": {"field": "x", "type": "quantitative", "title": "Log Dose Mn (mM)"},
                "y": {"field": "y", "type": "quantitative", "title": "% survival"},
                "color": {"field": "s", "type": "nominal", "legend": {"title": null, "orient": "none", "legendX": 317, "legendY": 5.2, "symbolSize": 64, "labelFontSize": 12.5, "labelFontWeight": "normal", "labelOffset": 11, "rowPadding": 8.1}},
                "shape": {"field": "s", "type": "nominal", "scale": {"domain": ["N2", "chn-1", "hsp-43", "hsf-1"], "range": ["circle", "triangle-down", "square", "triangle-up"]}, "legend": {"title": null, "orient": "none", "legendX": 317, "legendY": 5.2, "symbolSize": 64, "labelFontSize": 12.5, "labelFontWeight": "normal", "labelOffset": 11, "rowPadding": 8.1}}
              }
            }
          ]
        }
      ]
    }
  ],
  "spacing": 7,
  "config": {
    "font": "Liberation Sans",
    "view": {"stroke": null},
    "axis": {"grid": false, "domainColor": "#000", "domainWidth": 2.5, "tickColor": "#000", "tickWidth": 2, "tickSize": 4, "labelColor": "#000", "labelFontSize": 11, "labelFontWeight": "bold", "titleColor": "#000"},
    "axisX": {"labelPadding": 2, "titleFontSize": 13, "titleFontWeight": "bold", "titlePadding": 3},
    "axisY": {"labelPadding": 1, "titleFontSize": 12.5, "titleFontWeight": "normal", "titlePadding": 19},
    "legend": {"padding": 0, "labelColor": "#000", "labelLimit": 300},
    "title": {"fontSize": 19, "fontWeight": "bold", "anchor": "start", "frame": "group", "baseline": "alphabetic", "color": "#000"}
  }
}
